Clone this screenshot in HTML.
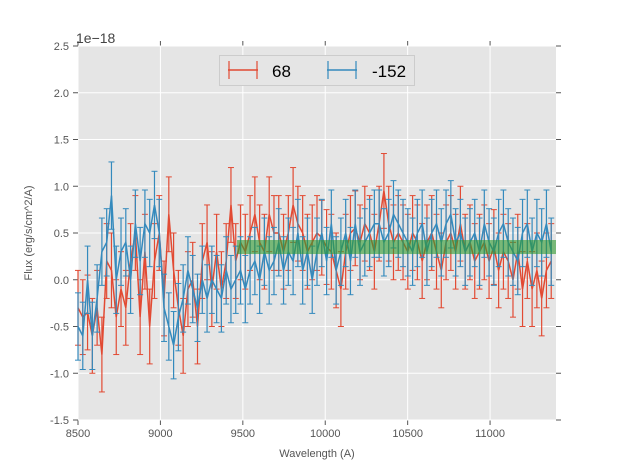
<!DOCTYPE html>
<html><head><meta charset="utf-8"><style>
body{margin:0;background:#fff;}
svg{display:block;font-family:"Liberation Sans","DejaVu Sans",sans-serif;}
</style></head><body>
<svg id="chart" width="617" height="467"></svg>
<script>
const redX0 = 8500, stepX = 29;
const redValues = [-0.3,-0.4,-0.35,-0.6,-0.3,-0.8,0.2,
0.1,-0.4,-0.1,-0.3,0.2,0.5,-0.4,
0.3,-0.5,0.2,0.5,-0.2,0.7,0.1,
-0.3,-0.6,-0.1,0.0,-0.5,0.2,0.4,
-0.1,0.3,-0.1,0.2,0.8,0.2,0.4,
0.3,0.5,0.7,0.4,0.3,0.7,0.5,
0.5,0.3,0.5,0.8,0.6,0.5,0.3,
0.4,0.5,0.45,0.35,0.3,0.1,-0.1,
0.3,0.5,0.55,0.4,0.6,0.5,0.3,
0.6,0.95,0.6,0.4,0.5,0.4,0.3,
0.5,0.4,0.2,0.4,0.5,0.3,0.1,
0.4,0.5,0.3,0.6,0.3,0.4,0.2,
0.3,0.4,0.2,0.35,0.1,0.3,0.2,
0.0,0.3,-0.1,0.2,-0.1,0.1,-0.2,0.1,0.2];
const blueValues = [-0.5,-0.6,0.0,-0.6,-0.2,0.3,0.4,
0.9,0.0,0.3,0.4,0.0,0.6,0.2,
0.6,0.5,0.8,0.5,-0.3,-0.5,-0.7,
-0.4,-0.2,0.1,-0.1,-0.3,0.0,-0.2,
0.0,-0.1,-0.2,0.1,-0.1,0.0,0.1,
-0.1,0.1,0.2,0.0,0.3,0.1,0.2,
0.4,0.1,0.3,0.2,0.5,0.1,0.3,
0.0,0.3,0.5,0.2,0.6,0.1,0.3,
0.5,0.2,0.6,0.3,0.4,0.5,0.6,
0.6,0.4,0.5,0.7,0.6,0.5,0.4,
0.3,0.5,0.6,0.3,0.5,0.6,0.4,
0.6,0.7,0.4,0.5,0.3,0.4,0.5,
0.3,0.6,0.4,0.3,0.5,0.6,0.4,
0.3,0.2,0.5,0.6,0.3,0.5,0.4,0.6,0.3];
const redErr = 0.4, blueErr = 0.36;
const bandRange = [9465, 11400, 0.275, 0.425];
const xTicks = [8500,9000,9500,10000,10500,11000];
const yTicks = [-1.5,-1.0,-0.5,0.0,0.5,1.0,1.5,2.0,2.5];

const L=78,R=556,T=46,B=420, xmin=8500,xmax=11400,ymin=-1.5,ymax=2.5;
const sx=v=>L+(v-xmin)/(xmax-xmin)*(R-L);
const sy=v=>B-(v-ymin)/(ymax-ymin)*(B-T);
const svg=document.getElementById('chart');
const NS='http://www.w3.org/2000/svg';
function mk(tag,attrs,parent){const e=document.createElementNS(NS,tag);for(const k in attrs)e.setAttribute(k,attrs[k]);(parent||svg).appendChild(e);return e;}

let bg=mk('rect',{x:L,y:T,width:R-L,height:B-T,fill:'#e5e5e5'});


xTicks.forEach(t=>{
  let g=mk('line',{x1:sx(t),x2:sx(t),y1:T,y2:B,stroke:'#fff','stroke-width':1});
  
  
  mk('line',{x1:sx(t),x2:sx(t),y1:B,y2:B+5,stroke:'#555'});
  mk('line',{x1:sx(t),x2:sx(t),y1:T,y2:T-5,stroke:'#555'});
  let tx=mk('text',{x:sx(t),y:B+17,'text-anchor':'middle','font-size':11,fill:'#555'});
  tx.textContent=t;
  
  
});
yTicks.forEach(t=>{
  let g=mk('line',{x1:L,x2:R,y1:sy(t),y2:sy(t),stroke:'#fff','stroke-width':1});
  
  
  mk('line',{x1:L-5,x2:L,y1:sy(t),y2:sy(t),stroke:'#555'});
  mk('line',{x1:R,x2:R+5,y1:sy(t),y2:sy(t),stroke:'#555'});
  let tx=mk('text',{x:L-9,y:sy(t)+4,'text-anchor':'end','font-size':11,fill:'#555'});
  tx.textContent=t.toFixed(1);
  
  
});

function series(vals,err,color,name){
  const g=mk('g',{});
  
  
  let d='';
  vals.forEach((v,i)=>{
    const x=sx(redX0+i*stepX);
    if(x>R+0.5)return;
    d+=(d?'L':'M')+x.toFixed(1)+','+sy(v).toFixed(1);
    mk('line',{x1:x,x2:x,y1:sy(v-err),y2:sy(v+err),stroke:color,'stroke-width':1.2},g);
    mk('line',{x1:x-3,x2:x+3,y1:sy(v-err),y2:sy(v-err),stroke:color,'stroke-width':1},g);
    mk('line',{x1:x-3,x2:x+3,y1:sy(v+err),y2:sy(v+err),stroke:color,'stroke-width':1},g);
  });
  mk('path',{d:d,fill:'none',stroke:color,'stroke-width':1.5},g);
}
series(redValues,redErr,'#e24a33','series-68');
series(blueValues,blueErr,'#348abd','series-neg152');

let band=mk('rect',{x:sx(bandRange[0]),y:sy(bandRange[3]),width:sx(bandRange[1])-sx(bandRange[0]),height:sy(bandRange[2])-sy(bandRange[3]),fill:'#2e9a2e','fill-opacity':0.6});



let ex=mk('text',{x:76,y:43,'font-size':14,fill:'#444'});ex.textContent='1e\u221218';


let xl=mk('text',{x:(L+R)/2,y:457,'text-anchor':'middle','font-size':11,fill:'#555'});xl.textContent='Wavelength (A)';


let yl=mk('text',{x:32,y:(T+B)/2,'text-anchor':'middle','font-size':11,fill:'#555',transform:'rotate(-90 32 '+((T+B)/2)+')'});yl.textContent='Flux (erg/s/cm^2/A)';



const lg=mk('g',{});


mk('rect',{x:219.5,y:55.5,width:195,height:30,fill:'#e5e5e5',stroke:'#ccc'},lg);
[[228,'#e24a33','68',272],[327,'#348abd','-152',372]].forEach(([x,c,t,tx])=>{
  const e=mk('g',{},lg);
  
  
  mk('line',{x1:x,x2:x+30,y1:70,y2:70,stroke:c,'stroke-width':1.5},e);
  mk('line',{x1:x+1,x2:x+1,y1:61,y2:79,stroke:c,'stroke-width':1.2},e);
  mk('line',{x1:x+29,x2:x+29,y1:61,y2:79,stroke:c,'stroke-width':1.2},e);
  const te=mk('text',{x:tx,y:77,'font-size':17,fill:'#000'},e);te.textContent=t;
});
</script>
</body></html>
